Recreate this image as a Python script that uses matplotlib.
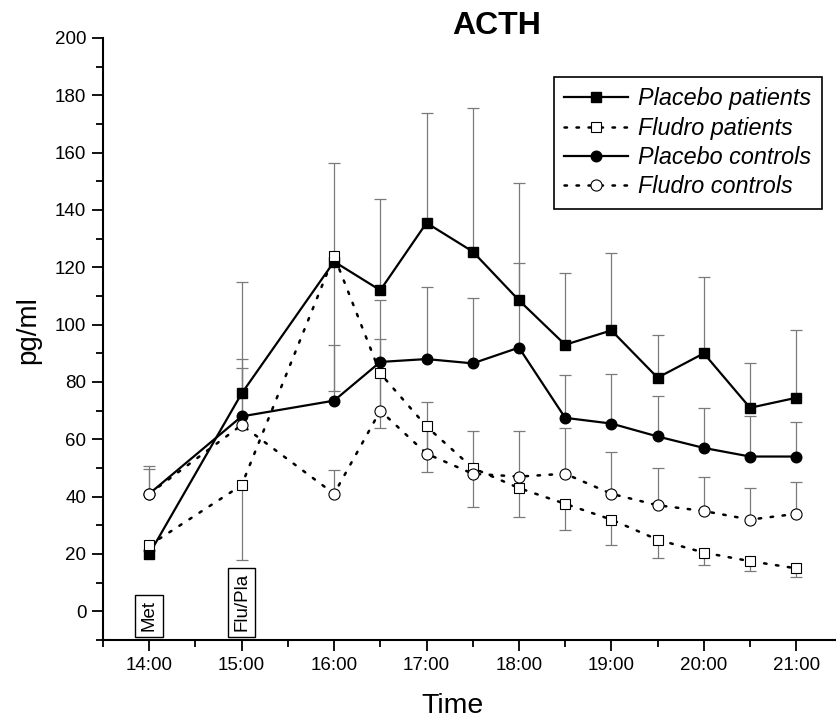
import matplotlib
matplotlib.use("Agg")
import matplotlib.pyplot as plt
from matplotlib.ticker import MultipleLocator, FixedLocator

plt.rcParams['font.family'] = ['Liberation Sans', 'DejaVu Sans']

# ---- data ----
times = [14, 15, 16, 16.5, 17, 17.5, 18, 18.5, 19, 19.5, 20, 20.5, 21]
tick_pos = [14, 15, 16, 17, 18, 19, 20, 21]
tick_labels = ["14:00", "15:00", "16:00", "17:00", "18:00", "19:00", "20:00", "21:00"]

placebo_patients = [20, 76, 122, 112, 135.5, 125.5, 108.5, 93, 98, 81.5, 90, 71, 74.5]
placebo_patients_err = [1.5, 39, 34.5, 32, 38.5, 50, 41, 25, 27, 15, 26.5, 15.5, 23.5]

fludro_patients = [23, 44, 124, 83, 64.5, 50, 43, 37.5, 32, 25, 20.5, 17.5, 15]
fludro_patients_err = [2, 26, 47, 19, 16, 13.5, 10, 9, 9, 6.5, 4.5, 3.5, 3]

placebo_controls = [41, 68, 73.5, 87, 88, 86.5, 92, 67.5, 65.5, 61, 57, 54, 54]
placebo_controls_err = [9.7, 20, 19.5, 21.5, 25, 22.7, 29.5, 15, 17.3, 14.2, 14, 14, 12.2]

fludro_controls = [41, 65, 41, 70, 55, 48, 47, 48, 41, 37, 35, 32, 34]
fludro_controls_err = [8.8, 20, 8.3, 25, 18, 15, 16, 15.8, 14.7, 13, 12, 11, 11]

annotations = [(14, "Met"), (15, "Flu/Pla")]

# ---- figure ----
W, H = 836, 722
fig = plt.figure(figsize=(W / 100, H / 100), dpi=100)
ax = fig.add_axes([103 / W, 82 / H, 1 - 103 / W, 602 / H])

err_color = "#7a7a7a"
dot_style = (0, (1, 3.8))


def draw_err(vals, errs, side):
    zeros = [0] * len(errs)
    yerr = [zeros, errs] if side == "up" else [errs, zeros]
    _, caps, _ = ax.errorbar(times, vals, yerr=yerr, fmt="none", ecolor=err_color,
                             elinewidth=0.9, capsize=4.5, capthick=0.9, zorder=1)
    # hide the cap that sits on the data point
    if side == "up":
        caps[0].set_visible(False)
    else:
        caps[1].set_visible(False)


draw_err(placebo_patients, placebo_patients_err, "up")
draw_err(placebo_controls, placebo_controls_err, "up")
draw_err(fludro_patients, fludro_patients_err, "down")
draw_err(fludro_controls, fludro_controls_err, "up")

l1, = ax.plot(times, placebo_patients, color="black", lw=1.6, marker="s", ms=6.8,
              mfc="black", mec="black", zorder=3, label="Placebo patients")
l3, = ax.plot(times, placebo_controls, color="black", lw=1.6, marker="o", ms=7.6,
              mfc="black", mec="black", zorder=3, label="Placebo controls")
l2, = ax.plot(times, fludro_patients, color="black", lw=1.8, ls=dot_style, marker="s",
              ms=7, mfc="white", mec="black", mew=0.8, zorder=4, label="Fludro patients")
l4, = ax.plot(times, fludro_controls, color="black", lw=1.8, ls=dot_style, marker="o",
              ms=8, mfc="white", mec="black", mew=0.8, zorder=4, label="Fludro controls")

for l in (l2, l4):
    l.set_dash_capstyle("round")

ax.set_xlim(13.5, 21.43)
ax.set_ylim(-10, 200)

for s in ("top", "right"):
    ax.spines[s].set_visible(False)
for s in ("left", "bottom"):
    ax.spines[s].set_linewidth(1.5)

ax.xaxis.set_major_locator(FixedLocator(tick_pos))
ax.set_xticklabels(tick_labels)
ax.xaxis.set_minor_locator(FixedLocator([13.5, 14.5, 15.5, 16.5, 17.5, 18.5, 19.5, 20.5]))
ax.yaxis.set_major_locator(MultipleLocator(20))
ax.yaxis.set_minor_locator(MultipleLocator(10))
ax.set_yticks(list(range(0, 201, 20)))
ax.tick_params(which="major", length=8, width=1.3, direction="out", labelsize=13.5, pad=4)
ax.tick_params(which="minor", length=5, width=1.3, direction="out")

for x, txt in annotations:
    ax.text(x, -7.0, txt, rotation=90, ha="center", va="bottom", fontsize=13.5, zorder=5,
            bbox=dict(boxstyle="square,pad=0.28", fc="white", ec="black", lw=1.0))

fig.text(497 / W, 1 - 26 / H, "ACTH", ha="center", va="center", fontsize=23,
         fontweight="bold")
fig.text(28 / W, 1 - 330 / H, "pg/ml", ha="center", va="center", rotation=90,
         fontsize=20)
fig.text(452 / W, 1 - 706 / H, "Time", ha="center", va="center", fontsize=20.5)

leg = ax.legend(handles=[l1, l2, l3, l4], loc="upper right",
                bbox_to_anchor=(822 / W, 1 - 77 / H), bbox_transform=fig.transFigure,
                fancybox=False, edgecolor="black", framealpha=1,
                prop=dict(style="italic", size=16.8), handlelength=2.75,
                handletextpad=0.43, labelspacing=0.27, borderpad=0.45, borderaxespad=0)
leg.get_frame().set_linewidth(1.2)

fig.savefig("out.png", dpi=100)
